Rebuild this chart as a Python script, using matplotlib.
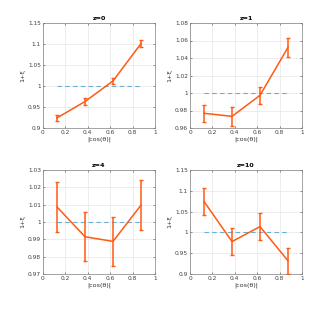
import matplotlib
matplotlib.use("Agg")
import matplotlib.pyplot as plt
import numpy as np

x = [0.125, 0.375, 0.625, 0.875]
titles = ["z=0", "z=1", "z=4", "z=10"]
y_z0 = [0.924, 0.963, 1.012, 1.101]
e_z0 = [0.008, 0.0075, 0.008, 0.009]
y_z1 = [0.9768, 0.9733, 0.9973, 1.0522]
e_z1 = [0.010, 0.0105, 0.010, 0.011]
y_z4 = [1.0087, 0.9915, 0.9888, 1.0097]
e_z4 = [0.0143, 0.014, 0.0142, 0.0143]
y_z10 = [1.0744, 0.978, 1.0139, 0.9318]
e_z10 = [0.0335, 0.0327, 0.033, 0.031]
ylims = [(0.9, 1.15), (0.96, 1.08), (0.97, 1.03), (0.9, 1.15)]
yticks = [[0.9, 0.95, 1, 1.05, 1.1, 1.15],
          [0.96, 0.98, 1, 1.02, 1.04, 1.06, 1.08],
          [0.97, 0.98, 0.99, 1, 1.01, 1.02, 1.03],
          [0.9, 0.95, 1, 1.05, 1.1, 1.15]]
xticks = [0, 0.2, 0.4, 0.6, 0.8, 1]

ys = [y_z0, y_z1, y_z4, y_z10]
es = [e_z0, e_z1, e_z4, e_z10]

W, H = 334, 309
fig = plt.figure(figsize=(W/100, H/100), dpi=100)
# axes pixel boxes: left, right, top, bottom
boxes = [(43, 155, 23, 128), (190, 302, 23, 128), (43, 155, 170, 274), (190, 302, 170, 274)]
orange = "#FF5A14"
blue = "#6AAED6"

def fmt(v):
    s = ("%.2f" % v).rstrip("0").rstrip(".")
    return s

for i in range(4):
    l, r, t, b = boxes[i]
    ax = fig.add_axes([l/W, 1 - b/H, (r-l)/W, (b-t)/H])
    ax.plot([x[0], x[-1]], [1, 1], ls=(0, (4, 3)), color=blue, lw=0.8, zorder=2)
    ax.errorbar(x, ys[i], yerr=es[i], color=orange, lw=1.1, elinewidth=1.1,
                capsize=1.6, capthick=1.0, zorder=3)
    ax.set_xlim(0, 1)
    ax.set_ylim(*ylims[i])
    ax.set_xticks(xticks)
    ax.set_xticklabels([fmt(v) for v in xticks])
    ax.set_yticks(yticks[i])
    ax.set_yticklabels([fmt(v) for v in yticks[i]])
    ax.grid(True, color="#e6e6e6", lw=0.5)
    ax.set_axisbelow(True)
    ax.tick_params(labelsize=4.2, length=1.5, width=0.4, colors="#404040", pad=1.5,
                   direction="in", top=True, right=True)
    for sp in ax.spines.values():
        sp.set_color("#808080")
        sp.set_linewidth(0.5)
    ax.set_title(titles[i], fontsize=4.6, fontweight="bold", pad=2)
    ax.set_xlabel("|cos(θ)|", fontsize=4.6, labelpad=1, color="#333333")
    ax.set_ylabel("1+ξ", fontsize=4.6, labelpad=1.5, color="#333333")

fig.savefig("out.png", dpi=100, facecolor="white")
